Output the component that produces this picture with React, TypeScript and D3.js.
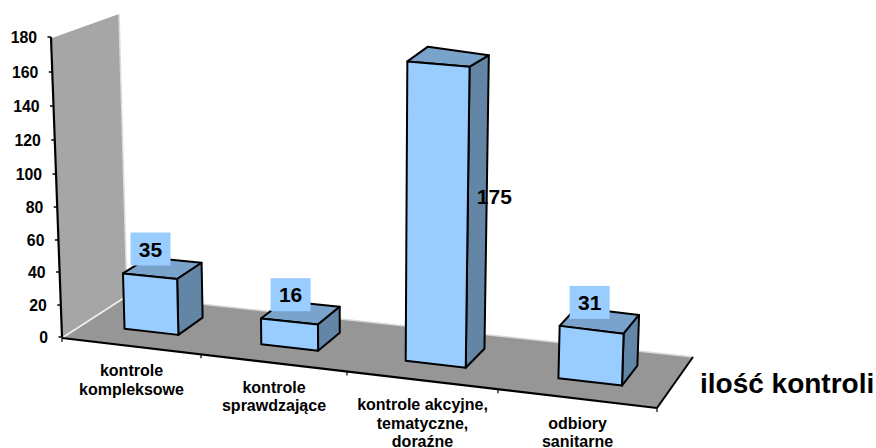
import React from "react";
import * as d3 from "d3";

const categories = [
  ["kontrole", "kompleksowe"],
  ["kontrole", "sprawdzające"],
  ["kontrole akcyjne,", "tematyczne,", "doraźne"],
  ["odbiory", "sanitarne"],
];
const values = [35, 16, 175, 31];
const yTicks = [0, 20, 40, 60, 80, 100, 120, 140, 160, 180];
const axisTitle = "ilość kontroli";

// where the wall axis ticks land, they get tighter towards the bottom
const yTickPixels = [337, 305, 272, 240, 207, 174, 140, 106, 72, 37];
// category boundaries along the front edge of the floor
const xTickPixels = [62, 201, 347, 498, 657];
// label box shift from the centre of a bar top, 175 was moved by hand in the original
const labelShift = [
  [-12, -19],
  [-10, -18],
  [46, 140],
  [-10, -18],
];

const width = 876;
const height = 448;
const font = "'Liberation Sans', Arial, sans-serif";

type Pt = [number, number];

// floor corners on screen
const F0: Pt = [62, 338];
const F1: Pt = [657, 408];
const F2: Pt = [693, 357];
const F3: Pt = [127, 296];

// unit square -> floor quad
const dx1 = F1[0] - F2[0];
const dx2 = F3[0] - F2[0];
const sx = F0[0] - F1[0] + F2[0] - F3[0];
const dy1 = F1[1] - F2[1];
const dy2 = F3[1] - F2[1];
const sy = F0[1] - F1[1] + F2[1] - F3[1];
const den = dx1 * dy2 - dx2 * dy1;
const g = (sx * dy2 - dx2 * sy) / den;
const h = (dx1 * sy - sx * dy1) / den;

const floorPoint = (u: number, v: number): Pt => {
  const U = u / categories.length;
  const w = 1 + g * U + h * v;
  return [
    (F0[0] + (F1[0] - F0[0] + g * F1[0]) * U + (F3[0] - F0[0] + h * F3[0]) * v) / w,
    (F0[1] + (F1[1] - F0[1] + g * F1[1]) * U + (F3[1] - F0[1] + h * F3[1]) * v) / w,
  ];
};

const yWall = d3.scaleLinear<number>().domain(yTicks).range(yTickPixels);
const xAxisX = d3.scaleLinear<number>().domain(d3.range(5)).range(xTickPixels);
const xAxisY = d3.scaleLinear<number>().domain([F0[0], F1[0]]).range([F0[1], F1[1]]);
const unitPx = d3.scaleLinear().domain([123, 300, 430, 600]).range([1.58, 1.63, 1.73, 1.68]);
// verticals lean outwards going up
const lean = (x: number) => (x - 360) * 0.00012;

const BAR_FROM = 0.31;
const BAR_TO = 0.71;
const DEPTH_FRONT = 0.32;
const DEPTH_BACK = 0.72;

const project = (u: number, v: number, value: number): Pt => {
  const [x, y] = floorPoint(u, v);
  // further back means a little shorter
  const dy = value * unitPx(x) * (1 - (v - DEPTH_FRONT) * 0.055);
  return [x + dy * lean(x), y - dy];
};

const wallX = (value: number) => F0[0] - (337 - yWall(value)) * 0.0367;

const poly = d3.line<Pt>().curve(d3.curveLinearClosed);

export default function App() {
  const wallTop = yWall(180);
  const wallCorners: Pt[] = [
    [wallX(180) + 1, wallTop + 1],
    [119, 14],
    F3,
    F0,
  ];

  return (
    <svg
      width={width}
      height={height}
      viewBox={`0 0 ${width} ${height}`}
      style={{ position: "absolute", left: 0, top: 0, background: "#fff", fontFamily: font }}
    >
      {/* wall and floor */}
      <path d={poly(wallCorners)!} fill="#a6a6a6" />
      <line x1={119} y1={14} x2={F3[0]} y2={F3[1]} stroke="#dcdcdc" strokeWidth={1.5} />
      <path d={poly([F0, F1, F2, F3])!} fill="#969696" />
      <line x1={F0[0]} y1={F0[1]} x2={F3[0]} y2={F3[1]} stroke="#f0f0f0" strokeWidth={1.5} />
      <line x1={F3[0]} y1={F3[1]} x2={F2[0]} y2={F2[1]} stroke="#d8d8d8" strokeWidth={1.5} />

      {/* y axis */}
      <line x1={wallX(180)} y1={yWall(180)} x2={wallX(0)} y2={yWall(0)} stroke="#000" strokeWidth={2.2} />
      {yTicks.map((t) => (
        <g key={t}>
          <line x1={wallX(t) - 3.5} x2={wallX(t)} y1={yWall(t)} y2={yWall(t)} stroke="#000" strokeWidth={1.5} />
          <text
            x={wallX(t) - 14}
            y={yWall(t) + 5.5}
            textAnchor="end"
            fontSize={15.8}
            fontWeight="bold"
            fill="#000"
          >
            {t}
          </text>
        </g>
      ))}

      {/* x axis */}
      <line x1={F0[0]} y1={F0[1]} x2={F1[0]} y2={F1[1]} stroke="#000" strokeWidth={2.2} />
      <line x1={F1[0]} y1={F1[1]} x2={F2[0]} y2={F2[1]} stroke="#000" strokeWidth={2} />
      {xTickPixels.map((_, i) => {
        const x = xAxisX(i);
        const y = xAxisY(x);
        return <line key={i} x1={x} x2={x} y1={y} y2={y + 4} stroke="#000" strokeWidth={1.2} />;
      })}
      {categories.map((lines, i) => {
        const x = xAxisX(i + 0.5);
        const y = xAxisY(x) + 30;
        return (
          <text key={i} textAnchor="middle" fontSize={16} fontWeight="bold" fill="#000">
            {lines.map((l, j) => (
              <tspan key={j} x={x} y={y + j * 18.5}>
                {l}
              </tspan>
            ))}
          </text>
        );
      })}

      {/* bars */}
      {values.map((value, i) => {
        const u0 = i + BAR_FROM;
        const u1 = i + BAR_TO;
        const fl = project(u0, DEPTH_FRONT, value);
        const fr = project(u1, DEPTH_FRONT, value);
        const bl = project(u0, DEPTH_BACK, value);
        const br = project(u1, DEPTH_BACK, value);
        const fl0 = project(u0, DEPTH_FRONT, 0);
        const fr0 = project(u1, DEPTH_FRONT, 0);
        const br0 = project(u1, DEPTH_BACK, 0);
        return (
          <g key={i} stroke="#000" strokeWidth={2} strokeLinejoin="round">
            <path d={poly([fl, fr, br, bl])!} fill="#7aa3cc" />
            <path d={poly([fr, br, br0, fr0])!} fill="#6385a6" />
            <path d={poly([fl, fr, fr0, fl0])!} fill="#99ccff" />
          </g>
        );
      })}

      {/* value labels */}
      {values.map((value, i) => {
        const [cx, cy] = project(i + (BAR_FROM + BAR_TO) / 2, (DEPTH_FRONT + DEPTH_BACK) / 2, value);
        const x = cx + labelShift[i][0];
        const y = cy + labelShift[i][1];
        return (
          <g key={i}>
            {value < 100 && <rect x={x - 20} y={y - 16.5} width={40} height={33} fill="#99ccff" />}
            <text x={x} y={y + 7.5} textAnchor="middle" fontSize={21} fontWeight="bold" fill="#000">
              {value}
            </text>
          </g>
        );
      })}

      <text x={700} y={393} fontSize={28} fontWeight="bold" fill="#000">
        {axisTitle}
      </text>
    </svg>
  );
}
